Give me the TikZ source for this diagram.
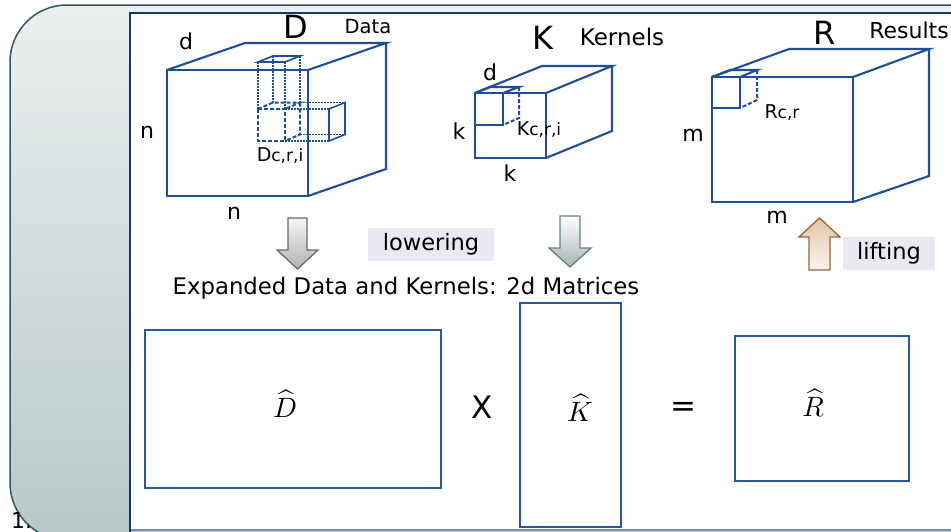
\documentclass[tikz,border=0pt]{standalone}
\usepackage{fontspec}
\usepackage{graphicx}
\setmainfont{DejaVu Sans}
\definecolor{cubeblue}{HTML}{1F4E9A}
\definecolor{navy}{HTML}{17356E}
\definecolor{frametop}{HTML}{EBEFEF}
\definecolor{framebot}{HTML}{B9C7C8}
\definecolor{frameline}{HTML}{2C5A5E}
\definecolor{tagfill}{HTML}{ECE8F2}
\definecolor{panelbase}{HTML}{7690B4}
\definecolor{matblue}{HTML}{2458A4}
\begin{document}
\begin{tikzpicture}[x=1pt,y=-1pt,
  edge/.style={draw=cubeblue, line width=2.1pt, line join=miter},
  hidden/.style={draw=cubeblue, line width=2pt, dash pattern=on 4pt off 2pt},
  dots/.style={draw=cubeblue, line width=1.6pt, dash pattern=on 1.5pt off 1.5pt},
  lbl/.style={inner sep=0pt, font=\fontsize{22}{26}\selectfont},
  big/.style={inner sep=0pt, font=\fontsize{32}{36}\selectfont},
  caption/.style={inner sep=0pt, font=\fontsize{22.8}{26}\selectfont},
  tag/.style={fill=tagfill, inner sep=0pt, font=\fontsize{22.5}{26}\selectfont},
  matrix box/.style={draw=matblue, line width=2.2pt},
  hat/.style={inner sep=0pt},
  op/.style={inner sep=0pt, font=\fontsize{31}{34}\selectfont},
  block arrow/.style={line width=1.3pt, line join=miter}
]
\useasboundingbox (0,0) rectangle (951,531);

% slide frame and white content panel
\shade[top color=frametop, bottom color=framebot, draw=frameline, line width=1.5pt,
       rounded corners=57pt] (10,540) -- (10,5) -- (1010,5) -- (1010,540) -- cycle;
\node[anchor=north west, inner sep=0pt, font=\fontsize{22}{24}\selectfont] (pagenum) at (11,512) {1.};
\fill[white] (130,13) rectangle (970,530);
\draw[draw=panelbase, line width=1.2pt] (130,530) -- (970,530);
\draw[draw=navy, line width=2pt] (130,545) -- (130,13) -- (970,13);

% ---------- data cube D ----------
\draw[edge] (167,70) rectangle (308,196);
\draw[edge] (167,70) -- (245,43) -- (386,43) -- (308,70);
\draw[edge] (386,43) -- (386,169) -- (308,196);
% column through the cube
\draw[edge, line width=1.6pt] (258,62) -- (273,56) -- (300,56) -- (285,62) -- cycle;
\draw[dots] (258,62) -- (258,109) (285,62) -- (285,109)
            (273,56) -- (273,102.5) (300,56) -- (300,102.5);
% hidden patch cube
\draw[hidden] (258,109) rectangle (285,141);
\draw[hidden] (258,109) -- (273,102.5) -- (300,102.5) -- (285,109);
\draw[hidden] (300,102.5) -- (300,134.5) -- (285,141);
% projection to the side
\draw[dots] (300,102.5) -- (345,102.5) (285,109) -- (329,109)
            (300,134.5) -- (345,134.5) (285,141) -- (329,141);
\draw[edge, line width=1.6pt] (329,109) -- (345,102.5) -- (345,134.5) -- (329,141) -- cycle;

\node[lbl] (dD) at (186,41) {d};
\node[lbl] (nDl) at (147,132) {n};
\node[lbl] (nDb) at (234,213) {n};
\node[big] (Dname) at (296,27) {D};
\node[lbl, font=\fontsize{19.5}{22}\selectfont] (Dword) at (368,27) {Data};
\node[inner sep=0pt] (Dpatch) at (280,156)
  {{\fontsize{19}{21}\selectfont D}{\fontsize{17}{19}\selectfont c,r,i}};

% ---------- kernel cube K ----------
\draw[edge] (475,93) rectangle (546,158);
\draw[edge] (475,93) -- (542,66) -- (612,66) -- (546,93);
\draw[edge] (612,66) -- (612,131) -- (546,158);
\draw[edge] (475,125) -- (503,125) -- (503,93);
\draw[edge] (475,93) -- (490,87) -- (519,87) -- (503,93);
\draw[hidden] (519,87) -- (519,118) -- (503,125);

\node[lbl] (dK) at (490,72) {d};
\node[lbl] (kKl) at (459,131) {k};
\node[lbl] (kKb) at (510,173) {k};
\node[big] (Kname) at (543,38) {K};
\node[lbl, font=\fontsize{23}{26}\selectfont] (Kword) at (622,37) {Kernels};
\node[inner sep=0pt] (Kpatch) at (539,130)
  {{\fontsize{19}{21}\selectfont K}{\fontsize{17}{19}\selectfont c,r,i}};

% ---------- result cube R ----------
\draw[edge] (712,77) rectangle (853,202);
\draw[edge] (712,77) -- (789,49) -- (929,49) -- (853,77);
\draw[edge] (929,49) -- (929,176) -- (853,202);
\draw[edge] (712,108) -- (740,108) -- (740,77);
\draw[edge] (712,77) -- (730,70) -- (757,70) -- (740,77);
\draw[hidden] (757,70) -- (757,100) -- (740,108);

\node[lbl] (mRl) at (693,135) {m};
\node[lbl] (mRb) at (777,217) {m};
\node[big] (Rname) at (825,33) {R};
\node[lbl] (Rword) at (909,30) {Results};
\node[inner sep=0pt] (Rpatch) at (782,113)
  {{\fontsize{19}{21}\selectfont R}{\fontsize{17}{19}\selectfont c,r}};

% ---------- lowering / lifting arrows ----------
\path[block arrow, draw=gray!85!black, top color=gray!8, bottom color=gray!60]
  (288,218) -- (307,218) -- (307,250) -- (318,250) -- (297.5,269) -- (277,250) -- (288,250) -- cycle;
\path[block arrow, draw=frameline!75, top color=white, bottom color=framebot!90!black]
  (560,216) -- (580,216) -- (580,248) -- (591,248) -- (570,267) -- (549,248) -- (560,248) -- cycle;
\path[block arrow, draw=brown!80!black, top color=brown!45!white, bottom color=brown!8!white]
  (809,270) -- (830,270) -- (830,237) -- (840,237) -- (819.5,218) -- (799,237) -- (809,237) -- cycle;

\node[tag, minimum width=126pt, minimum height=33pt] (lowering) at (431,244.5) {lowering};
\node[tag, minimum width=92pt, minimum height=33pt] (lifting) at (889,253.5) {lifting};

\node[caption] (expanded) at (406,288) {Expanded Data and Kernels: 2d Matrices};

% ---------- 2d matrices ----------
\draw[matrix box] (145,330) rectangle (441,488);
\draw[matrix box] (520,303) rectangle (621,527);
\draw[matrix box] (735,336) rectangle (909,481);
\node[hat] (Dhat) at (285,404) {\scalebox{2.8}{$\widehat{D}$}};
\node[hat] (Khat) at (580,408) {\scalebox{2.8}{$\widehat{K}$}};
\node[hat] (Rhat) at (813,403) {\scalebox{2.8}{$\widehat{R}$}};
\node[op] (times) at (482,407) {X};
\node[op] (equals) at (683,409) {=};
\end{tikzpicture}
\end{document}
